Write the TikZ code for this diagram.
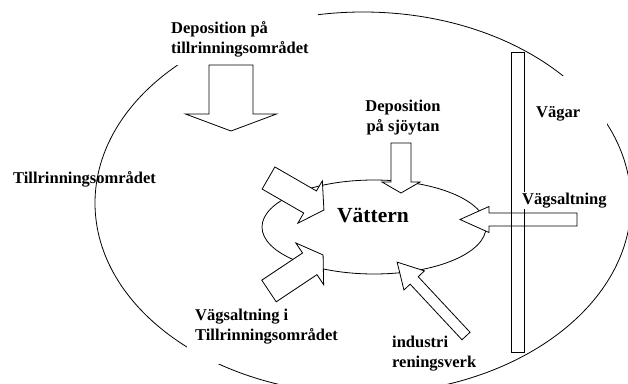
\documentclass[tikz,border=0pt]{standalone}
\usepackage{fontspec}
\setmainfont{Liberation Serif}
\usetikzlibrary{shapes.geometric}

\begin{document}
\begin{tikzpicture}[
    x=1pt, y=-1pt,
    lbl/.style={font=\bfseries\fontsize{16.5}{20}\selectfont, align=left, inner sep=0pt},
    region/.style={ellipse, draw, line width=.8pt, inner sep=0pt},
    road/.style={rectangle, draw, line width=.8pt, inner sep=0pt},
    flowline/.style={draw, fill=white, line width=.8pt},
    pics/inflow/.style n args={4}{code={
        \path[flowline] (0,-#2) -- ({#1-#4},-#2) -- ({#1-#4},-#3) -- (#1,0)
            -- ({#1-#4},#3) -- ({#1-#4},#2) -- (0,#2) -- cycle;}}
]
\useasboundingbox (0,0) rectangle (628,383);

% catchment and lake
\node[region, minimum width=536pt, minimum height=382pt] (catchment) at (363,203) {};
\node[lbl, fill=white, inner xsep=9pt, inner ysep=8pt, anchor=north west] (deptill) at (162,13) {Deposition på\\tillrinningsområdet};
\node[lbl, fill=white, inner xsep=8pt, inner ysep=20pt, anchor=north west] (saltvag) at (187,289) {Vägsaltning i\\Tillrinningsområdet};
\node[lbl, fill=white, text width=71pt, inner ysep=30pt, anchor=base west] (vagar) at (536,117) {Vägar};
\node[lbl, anchor=base west] (tillr) at (13,183) {Tillrinningsområdet};
\node[region, minimum width=224pt, minimum height=94pt] (lake) at (374,227) {};
\node[font=\bfseries\fontsize{21.5}{25}\selectfont, anchor=base] (vattern) at (373,222) {Vättern};
\node[lbl, align=center, anchor=north] (depsjo) at (403,100) {Deposition\\på sjöytan};
\node[lbl, anchor=north west] (industri) at (392,336) {industri\\reningsverk};

% inflows to the lake
\pic[rotate=-90] at (231,65) {inflow={66}{22}{45.5}{17}};
\pic[rotate=-90] at (401,143) {inflow={50}{10}{19}{11}};
\pic[rotate=-30] at (268.5,178) {inflow={64}{12.75}{24.5}{16}};
\pic[rotate=33.7] at (269,291) {inflow={65}{13}{25}{16}};
\pic[rotate=133] at (466,336) {inflow={101}{5.5}{14}{25}};
\pic[rotate=180] at (577,219.5) {inflow={117}{6.5}{13}{29}};

% road
\node[road, minimum width=12.5pt, minimum height=300pt] (road) at (517.75,202) {};
\node[lbl, fill=white, inner xsep=2pt, inner ysep=1pt, anchor=base west] (vagsalt) at (520,204) {Vägsaltning};
\end{tikzpicture}
\end{document}
